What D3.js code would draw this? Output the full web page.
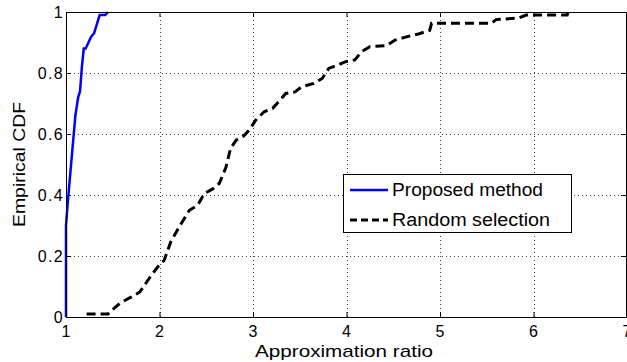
<!DOCTYPE html>
<meta charset="utf-8">

<head>
  <title>Empirical CDF</title>
</head>

<style>
  body { margin: 0; background: #fff; }
  text { font-family: "Liberation Sans", Arial, sans-serif; }
</style>

<body>
  <svg width="627" height="362">
    <g></g>
  </svg>

  <script src="https://cdn.jsdelivr.net/npm/d3@7"></script>
  <script>
    // data
    var proposedX = [1.00, 1.00, 1.02, 1.04, 1.06, 1.08, 1.10, 1.13, 1.15, 1.17, 1.19, 1.21, 1.24, 1.27, 1.30, 1.32, 1.34, 1.36, 1.42, 1.45];
    var proposedY = [0.00, 0.30, 0.38, 0.45, 0.52, 0.59, 0.66, 0.72, 0.74, 0.82, 0.88, 0.88, 0.90, 0.92, 0.93, 0.95, 0.97, 0.99, 0.99, 1.00];

    var randomX = [1.22, 1.45, 1.52, 1.58, 1.70, 1.79, 1.89, 1.98, 2.05, 2.12, 2.21, 2.32, 2.41, 2.48, 2.57, 2.64, 2.71, 2.76, 2.82, 2.90,
      2.96, 3.03, 3.12, 3.21, 3.29, 3.35, 3.45, 3.52, 3.65, 3.74, 3.81, 3.88, 3.99, 4.09, 4.16, 4.25, 4.43, 4.52, 4.66, 4.77,
      4.89, 4.91, 5.55, 5.60, 5.84, 5.92, 6.36, 6.37];
    var randomY = [0.01, 0.01, 0.03, 0.046, 0.066, 0.082, 0.127, 0.164, 0.186, 0.246, 0.295, 0.35, 0.367, 0.405, 0.42, 0.438, 0.49, 0.553, 0.58, 0.593,
      0.613, 0.646, 0.673, 0.684, 0.711, 0.733, 0.738, 0.755, 0.766, 0.782, 0.815, 0.823, 0.837, 0.843, 0.87, 0.886, 0.89, 0.908, 0.92, 0.928,
      0.94, 0.963, 0.963, 0.975, 0.98, 0.99, 0.99, 1.0];

    var xTicks = [1, 2, 3, 4, 5, 6, 7];
    var yTicks = [0, 0.2, 0.4, 0.6, 0.8, 1];
    var seriesNames = ['Proposed method', 'Random selection'];

    var W = 561, H = 305;
    var xScale = d3.scaleLinear().domain([1, 7]).range([0, W]);
    var yScale = d3.scaleLinear().domain([0, 1]).range([H, 0]);

    var scene = d3.select('g')
      .attr('transform', 'translate(66, 12)')

    // grid
    scene.append('g')
      .selectAll('line')
      .data(xTicks.slice(1, -1))
      .enter()
      .append('line')
      .attr('x1', d => Math.round(xScale(d)) + 0.5)
      .attr('x2', d => Math.round(xScale(d)) + 0.5)
      .attr('y1', 0)
      .attr('y2', H)
      .attr('stroke', '#444')
      .attr('stroke-dasharray', '1, 3')
    scene.append('g')
      .selectAll('line')
      .data(yTicks.slice(1, -1))
      .enter()
      .append('line')
      .attr('y1', d => Math.round(yScale(d)) + 0.5)
      .attr('y2', d => Math.round(yScale(d)) + 0.5)
      .attr('x1', 0)
      .attr('x2', W)
      .attr('stroke', '#444')
      .attr('stroke-dasharray', '1, 3')

    var fmt = d => (d === 0 || d === 1) ? String(d) : d3.format('.1f')(d);

    scene.append('g')
      .attr('transform', 'translate(0,' + H + ')')
      .call(d3.axisBottom(xScale).tickValues(xTicks).tickSize(-5).tickPadding(9).tickFormat(d3.format('d')))
    scene.append('g')
      .call(d3.axisLeft(yScale).tickValues(yTicks).tickSize(-5).tickPadding(2).tickFormat(fmt))
    scene.append('g')
      .call(d3.axisTop(xScale).tickValues(xTicks).tickSize(-5).tickFormat(''))
    scene.append('g')
      .attr('transform', 'translate(' + (W - 1) + ',0)')
      .call(d3.axisRight(yScale).tickValues(yTicks).tickSize(-5).tickFormat(''))

    scene.selectAll('.domain').attr('stroke', '#000')
    scene.selectAll('.tick line').attr('stroke', '#000')
    scene.selectAll('.tick text')
      .attr('fill', '#000')
      .style('font-size', '16px')
      .style('letter-spacing', '1.3px')
      .style('font-family', '"Liberation Sans", Arial, sans-serif')

    // series lines
    var line = d3.line()
      .x(d => xScale(d[0]))
      .y(d => yScale(d[1]));

    scene.append('path')
      .datum(d3.zip(randomX, randomY))
      .attr('d', line)
      .attr('fill', 'none')
      .attr('stroke', '#000')
      .attr('stroke-width', 3)
      .attr('stroke-dasharray', '9, 5')

    scene.append('path')
      .datum(d3.zip(proposedX, proposedY))
      .attr('d', line)
      .attr('fill', 'none')
      .attr('stroke', '#0000ff')
      .attr('stroke-width', 2.5)

    // frame
    scene.append('rect')
      .attr('x', 0.5)
      .attr('y', 0.5)
      .attr('width', W - 1)
      .attr('height', H)
      .attr('fill', 'none')
      .attr('stroke', '#000')

    // axis labels
    scene.append('text')
      .attr('x', 278)
      .attr('y', 345)
      .attr('text-anchor', 'middle')
      .attr('textLength', 178)
      .attr('lengthAdjust', 'spacingAndGlyphs')
      .style('font-size', '17px')
      .text('Approximation ratio')
    scene.append('text')
      .attr('transform', 'translate(-41,' + (H / 2) + ') rotate(-90)')
      .attr('text-anchor', 'middle')
      .attr('textLength', 125)
      .attr('lengthAdjust', 'spacingAndGlyphs')
      .style('font-size', '17px')
      .text('Empirical CDF')

    // legend
    var legend = scene.append('g')
      .attr('transform', 'translate(277, 162)')
    legend.append('rect')
      .attr('x', 0.5)
      .attr('y', 0.5)
      .attr('width', 228)
      .attr('height', 58)
      .attr('fill', '#fff')
      .attr('stroke', '#000')
    var rows = legend.selectAll('.row')
      .data(seriesNames)
      .enter()
      .append('g')
      .attr('class', 'row')
      .attr('transform', (d, i) => 'translate(0,' + (16 + i * 30) + ')')
    rows.append('line')
      .attr('x1', 7)
      .attr('x2', 45)
      .attr('stroke', (d, i) => i === 0 ? '#0000ff' : '#000')
      .attr('stroke-width', (d, i) => i === 0 ? 2.5 : 3)
      .attr('stroke-dasharray', (d, i) => i === 0 ? null : '7, 4')
    rows.append('text')
      .attr('x', 49)
      .attr('dy', '0.36em')
      .attr('textLength', (d, i) => i === 0 ? 151 : 158)
      .attr('lengthAdjust', 'spacingAndGlyphs')
      .style('font-size', '18px')
      .text(d => d)
  </script>
</body>

</html>
